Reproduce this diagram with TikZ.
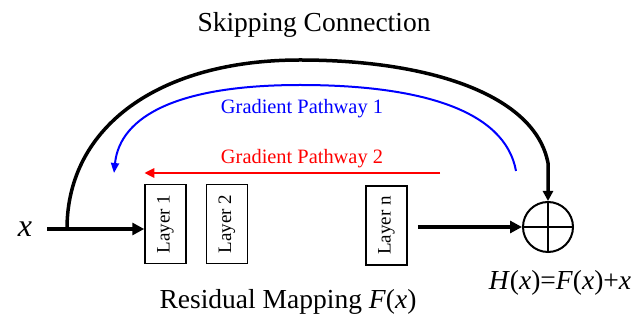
\documentclass[tikz,border=0pt]{standalone}
\usepackage{fontspec}
\setmainfont{Liberation Serif}
\usetikzlibrary{arrows.meta,positioning}
\definecolor{gblue}{RGB}{0,0,255}
\definecolor{gred}{RGB}{255,0,0}
\tikzset{
  every picture/.style={line cap=butt, line join=miter},
  % Bausteine
  layer/.style={draw, line width=1.5pt, minimum width=41pt, minimum height=79pt,
    inner sep=0pt, font=\fontsize{19}{22}\selectfont},
  sum/.style={circle, draw, line width=2pt, minimum size=50pt, inner sep=0pt,
    path picture={\draw[line width=1.6pt] (path picture bounding box.north) -- (path picture bounding box.south)
      (path picture bounding box.west) -- (path picture bounding box.east);}},
  % Verbindungen
  flow/.style={line width=4pt, -{Triangle[length=12pt,width=12pt]}},
  skip/.style={line width=3.5pt, -{Triangle[length=10pt,width=10pt]}},
  grad1/.style={gblue, line width=2pt, -{Triangle[length=10pt,width=8pt]}},
  grad2/.style={gred, line width=2.5pt, -{Triangle[length=10pt,width=9pt]}},
  % Beschriftung
  big/.style={font=\fontsize{27.5}{30}\selectfont, inner sep=0pt, anchor=base},
  small/.style={font=\fontsize{20.4}{24}\selectfont, inner sep=0pt, anchor=base},
}
\begin{document}
\begin{tikzpicture}[x=1pt, y=-1pt]
  \useasboundingbox (0,0) rectangle (643,328);
  % Schichten
  \node[layer] (layer1) at (165.5,224) {\rotatebox{90}{Layer 1}};
  \node[layer] (layer2) at (227,224) {\rotatebox{90}{Layer 2}};
  \node[layer] (layern) at (386.5,225.5) {\rotatebox{90}{Layer n}};
  \node[sum] (add) at (548,227) {};
  % Beschriftung
  \node[big, font=\fontsize{32}{34}\selectfont\itshape] (xin) at (25,237) {x};
  \node[big] (title) at (314,32) {Skipping Connection};
  \node[big] (resid) at (288,309) {Residual Mapping \textit{F}(\textit{x})};
  \node[big] (out) at (560,290) {\textit{H}(\textit{x})=\textit{F}(\textit{x})+\textit{x}};
  \node[small, gblue] (g1) at (302,114) {Gradient Pathway 1};
  \node[small, gred] (g2) at (302,164) {Gradient Pathway 2};
  % Hauptpfad
  \coordinate (xstart) at (47,229);
  \coordinate (skipfoot) at (67,229);
  \coordinate (skipbend) at (548,163);
  \draw[flow] (xstart) -- (xstart -| layer1.west);
  \draw[flow, shorten <=10pt] (add.west -| layern.east) -- (add.west);
  % Skip-Verbindung
  \draw[skip] (skipfoot) .. controls (67,126) and (160,60) .. (300,60)
    .. controls (430,60) and (535,95) .. (skipbend) -- (add.north);
  % Gradientenpfade
  \coordinate (g1start) at (516,171);
  \coordinate (g1end) at (114,173);
  \draw[grad1] (g1start) .. controls (505,110) and (420,85) .. (300,85)
    .. controls (180,85) and (120,115) .. (g1end);
  \coordinate (g2start) at (440,173);
  \draw[grad2] (g2start) -- (g2start -| layer1.west);
\end{tikzpicture}
\end{document}
